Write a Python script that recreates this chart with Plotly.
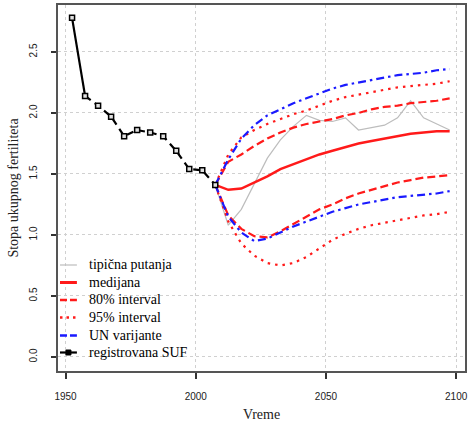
import plotly.graph_objects as go

# registered total fertility rate (5-year periods)
obs_years = [1952.5, 1957.5, 1962.5, 1967.5, 1972.5, 1977.5, 1982.5, 1987.5, 1992.5, 1997.5, 2002.5, 2007.5]
obs_tfr = [2.78, 2.14, 2.06, 1.97, 1.81, 1.86, 1.84, 1.81, 1.69, 1.54, 1.53, 1.41]

# projections
proj_years = [2007.5, 2012.5, 2017.5, 2022.5, 2027.5, 2032.5, 2037.5, 2042.5, 2047.5, 2052.5,
              2057.5, 2062.5, 2067.5, 2072.5, 2077.5, 2082.5, 2087.5, 2092.5, 2097.5]
trajectory = [1.41, 1.08, 1.21, 1.42, 1.63, 1.78, 1.89, 1.98, 1.94, 1.93,
              1.96, 1.86, 1.88, 1.90, 1.96, 2.10, 1.96, 1.91, 1.86]
median = [1.41, 1.37, 1.38, 1.43, 1.48, 1.54, 1.58, 1.62, 1.66, 1.69,
          1.72, 1.75, 1.77, 1.79, 1.81, 1.83, 1.84, 1.85, 1.85]
pi80_low = [1.41, 1.16, 1.05, 0.99, 0.98, 1.03, 1.09, 1.15, 1.21, 1.25,
            1.30, 1.34, 1.37, 1.40, 1.43, 1.45, 1.47, 1.48, 1.49]
pi80_high = [1.41, 1.60, 1.66, 1.73, 1.79, 1.84, 1.88, 1.91, 1.93, 1.95,
             1.98, 2.00, 2.03, 2.05, 2.06, 2.08, 2.09, 2.10, 2.12]
pi95_low = [1.41, 1.11, 0.93, 0.83, 0.77, 0.75, 0.77, 0.82, 0.89, 0.96,
            1.01, 1.05, 1.08, 1.10, 1.12, 1.14, 1.16, 1.17, 1.19]
pi95_high = [1.41, 1.66, 1.80, 1.86, 1.91, 1.95, 1.99, 2.02, 2.06, 2.10,
             2.13, 2.15, 2.17, 2.19, 2.21, 2.22, 2.23, 2.24, 2.26]
un_low = [1.41, 1.15, 1.02, 0.95, 0.97, 1.02, 1.07, 1.11, 1.15, 1.19,
          1.22, 1.25, 1.27, 1.29, 1.31, 1.32, 1.33, 1.34, 1.36]
un_high = [1.41, 1.62, 1.79, 1.90, 1.98, 2.03, 2.08, 2.12, 2.16, 2.20,
           2.23, 2.25, 2.27, 2.29, 2.31, 2.32, 2.33, 2.35, 2.36]

x_ticks = [1950, 2000, 2050, 2100]
y_ticks = [0.0, 0.5, 1.0, 1.5, 2.0, 2.5]
y_tick_labels = ["0.0", "0.5", "1.0", "1.5", "2.0", "2.5"]

legend_labels = ["tipična putanja", "medijana", "80% interval", "95% interval",
                 "UN varijante", "registrovana SUF"]

RED = "#ff1a1a"
BLUE = "#1a1aff"
GRAY = "#bdbdbd"
DASH = "8px,4px"
DOT = "2.5px,5px"
DASHDOT = "8px,4px,2.5px,4px"
SERIF = "Liberation Serif, Times New Roman, serif"

fig = go.Figure()

fig.add_trace(go.Scatter(x=proj_years, y=trajectory, mode="lines", name=legend_labels[0],
                         line=dict(color=GRAY, width=1.2)))
fig.add_trace(go.Scatter(x=proj_years, y=median, mode="lines", name=legend_labels[1],
                         line=dict(color=RED, width=2.5)))
for arr in (pi80_high, pi80_low):
    fig.add_trace(go.Scatter(x=proj_years, y=arr, mode="lines", name=legend_labels[2],
                             line=dict(color=RED, width=2.2, dash=DASH)))
for arr in (pi95_high, pi95_low):
    fig.add_trace(go.Scatter(x=proj_years, y=arr, mode="lines", name=legend_labels[3],
                             line=dict(color=RED, width=2.2, dash=DOT)))
for arr in (un_high, un_low):
    fig.add_trace(go.Scatter(x=proj_years, y=arr, mode="lines", name=legend_labels[4],
                             line=dict(color=BLUE, width=2.2, dash=DASHDOT)))
# observed: first segment solid, the rest dashed, then the square markers
fig.add_trace(go.Scatter(x=obs_years[:2], y=obs_tfr[:2], mode="lines", name=legend_labels[5],
                         line=dict(color="black", width=2.2)))
fig.add_trace(go.Scatter(x=obs_years[1:], y=obs_tfr[1:], mode="lines", name=legend_labels[5],
                         line=dict(color="black", width=2.2, dash="7px,5px")))
fig.add_trace(go.Scatter(x=obs_years, y=obs_tfr, mode="markers", name=legend_labels[5],
                         marker=dict(symbol="square", size=5, color="#e0e0e0",
                                     line=dict(color="black", width=1.5))))

# ---- legend (drawn as key samples + text, R style, no box) ----
plot_left, plot_top, plot_w, plot_h = 58, 5, 409, 366
row_px = [265, 282.5, 300, 317.5, 335.5, 352.5]
key_styles = [
    dict(color=GRAY, width=1.2),
    dict(color=RED, width=3),
    dict(color=RED, width=2.5, dash="7px,3px"),
    dict(color=RED, width=2.5, dash="2.5px,4px"),
    dict(color=BLUE, width=2.5, dash="7px,3px"),
    dict(color="black", width=2.2),
]


def px_to_paper_x(px):
    return (px - plot_left) / plot_w


def px_to_paper_y(py):
    return (plot_top + plot_h - py) / plot_h


for label, py, style in zip(legend_labels, row_px, key_styles):
    fig.add_shape(type="line", xref="paper", yref="paper",
                  x0=px_to_paper_x(60), x1=px_to_paper_x(77),
                  y0=px_to_paper_y(py), y1=px_to_paper_y(py), line=style)
    fig.add_annotation(xref="paper", yref="paper", x=px_to_paper_x(87), y=px_to_paper_y(py - 0.5),
                       xanchor="left", yanchor="middle", showarrow=False, text=label,
                       font=dict(family=SERIF, size=14, color="black"))
# square marker on the observed-series key
fig.add_shape(type="rect", xref="paper", yref="paper",
              x0=px_to_paper_x(66), x1=px_to_paper_x(71),
              y0=px_to_paper_y(row_px[5] + 2.5), y1=px_to_paper_y(row_px[5] - 2.5),
              fillcolor="black", line=dict(color="black", width=1))

axis_common = dict(
    showline=True, linecolor="#555555", linewidth=1.5, mirror=True,
    showgrid=True, gridcolor="#d0d0d0", griddash="dot", gridwidth=1,
    zeroline=False, ticks="outside", tickcolor="#333333", tickwidth=1.5,
    tickfont=dict(family="Liberation Sans, Arial, sans-serif", size=10, color="#222222"),
)

fig.update_layout(
    width=469, height=424,
    margin=dict(l=plot_left, r=469 - plot_left - plot_w, t=plot_top, b=424 - plot_top - plot_h),
    paper_bgcolor="white", plot_bgcolor="white",
    showlegend=False,
    xaxis=dict(range=[1947.1, 2103.4], tickvals=x_ticks, ticklen=6, ticklabelstandoff=9,
               title=dict(text="Vreme", standoff=8,
                          font=dict(family=SERIF, size=14, color="#222")),
               **axis_common),
    yaxis=dict(range=[-0.115, 2.885], tickvals=y_ticks, ticktext=y_tick_labels, ticklen=5,
               tickangle=-90, ticklabelstandoff=10,
               title=dict(text="Stopa ukupnog fertiliteta", standoff=6,
                          font=dict(family=SERIF, size=14, color="#222")),
               **axis_common),
)

fig.write_html("out.html")
